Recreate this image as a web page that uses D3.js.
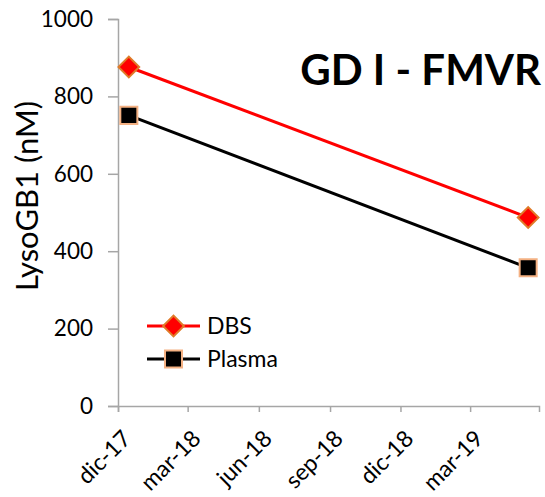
<!DOCTYPE html>
<html>
<head>
<meta charset="utf-8">
<script src="https://cdn.jsdelivr.net/npm/d3@7"></script>
<style>
  body { margin: 0; background: #fff; }
  text { font-family: Lato, "Open Sans", sans-serif; fill: #000; }
</style>
</head>
<body>
<svg id="chart"></svg>
<script>
"use strict";

// data
var dates = ["2017-12-15", "2019-05-15"];
var dbs = [876, 487];
var plasma = [751, 357];
var seriesNames = ["DBS", "Plasma"];
var tickDates = ["2017-12-01", "2018-03-01", "2018-06-01", "2018-09-01", "2018-12-01", "2019-03-01"];
var tickLabels = ["dic-17", "mar-18", "jun-18", "sep-18", "dic-18", "mar-19"];
var yTicks = [0, 200, 400, 600, 800, 1000];

var W = 545, H = 497;
var margin = { left: 118, right: 6, top: 19, bottom: 91 };
var parse = d3.timeParse("%Y-%m-%d");

var svg = d3.select("#chart").attr("width", W).attr("height", H);

var x = d3.scaleTime()
  .domain([parse("2017-12-01"), parse("2019-05-29")])
  .range([margin.left, W - margin.right]);

var y = d3.scaleLinear()
  .domain([0, 1000])
  .range([H - margin.bottom, margin.top]);

var axisColor = "#a6a6a6";

// y axis
var yAxis = svg.append("g")
  .attr("transform", "translate(" + margin.left + ",0)")
  .call(d3.axisLeft(y).tickValues(yTicks).tickFormat(d3.format("d")).tickSize(10).tickPadding(15));
yAxis.selectAll("line, path").attr("stroke", axisColor).attr("stroke-width", 1.5);
yAxis.selectAll("text").attr("font-size", 22.5).attr("fill", "#000")
  .style("font-family", "Lato, sans-serif");

// x axis
var xAxis = svg.append("g")
  .attr("transform", "translate(0," + y(0) + ")")
  .call(d3.axisBottom(x)
    .tickValues(tickDates.map(parse))
    .tickFormat(function (d, i) { return tickLabels[i]; })
    .tickSize(6)
    .tickSizeOuter(6));
xAxis.selectAll("line, path").attr("stroke", axisColor).attr("stroke-width", 1.5);
xAxis.selectAll("text")
  .attr("font-size", 23)
  .attr("fill", "#000")
  .style("font-family", "Lato, sans-serif")
  .attr("text-anchor", "end")
  .attr("dy", null)
  .attr("y", 0)
  .attr("transform", "translate(14,34) rotate(-45)");

// y title
svg.append("text")
  .attr("transform", "translate(38,196) rotate(-90)")
  .attr("text-anchor", "middle")
  .attr("font-size", 31)
  .text("LysoGB1 (nM)");

// chart title
svg.append("text")
  .attr("x", 541)
  .attr("y", 85)
  .attr("text-anchor", "end")
  .attr("font-size", 42)
  .attr("font-weight", "bold")
  .text("GD I - FMVR");

var series = [
  { name: seriesNames[0], values: dbs, color: "#ff0000", fill: "#ff0000", stroke: "#e07b29", size: 215, rot: 45 },
  { name: seriesNames[1], values: plasma, color: "#000000", fill: "#000000", stroke: "#f4b183", size: 290, rot: 0 }
];

var line = d3.line()
  .x(function (d) { return x(parse(d.date)); })
  .y(function (d) { return y(d.v); });

series.forEach(function (s) {
  var pts = dates.map(function (d, i) { return { date: d, v: s.values[i] }; });
  svg.append("path")
    .datum(pts)
    .attr("d", line)
    .attr("fill", "none")
    .attr("stroke", s.color)
    .attr("stroke-width", 3);
  svg.selectAll(null)
    .data(pts)
    .enter().append("path")
    .attr("d", d3.symbol().type(d3.symbolSquare).size(s.size))
    .attr("transform", function (d) {
      return "translate(" + x(parse(d.date)) + "," + y(d.v) + ") rotate(" + s.rot + ")";
    })
    .attr("fill", s.fill)
    .attr("stroke", s.stroke)
    .attr("stroke-width", 2);
});

// legend
var legend = svg.append("g").attr("transform", "translate(147,326)");
series.forEach(function (s, i) {
  var g = legend.append("g").attr("transform", "translate(0," + (i * 33) + ")");
  g.append("line")
    .attr("x1", 0).attr("x2", 53)
    .attr("stroke", s.color).attr("stroke-width", 3);
  g.append("path")
    .attr("d", d3.symbol().type(d3.symbolSquare).size(s.size))
    .attr("transform", "translate(26.5,0) rotate(" + s.rot + ")")
    .attr("fill", s.fill)
    .attr("stroke", s.stroke)
    .attr("stroke-width", 2);
  g.append("text")
    .attr("x", 60)
    .attr("y", 8)
    .attr("font-size", 23)
    .text(s.name);
});
</script>
</body>
</html>
